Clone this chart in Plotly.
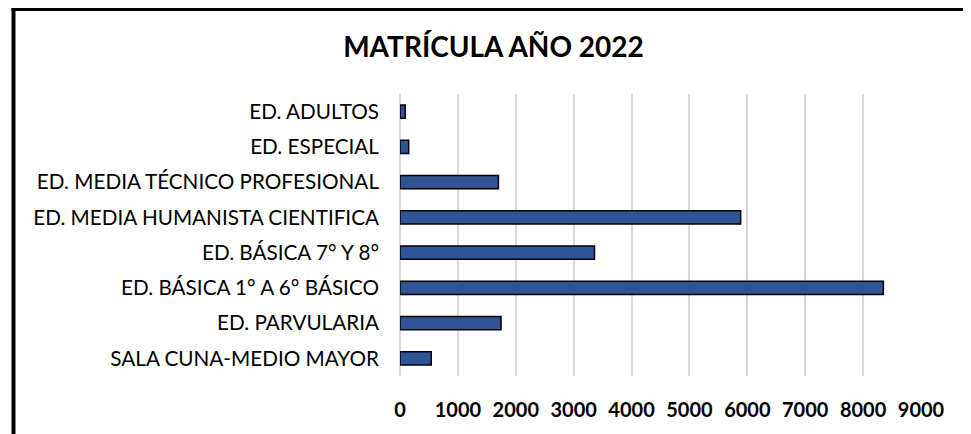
import plotly.graph_objects as go

# Categories listed bottom to top, as in the source sheet
categories = [
    "SALA CUNA-MEDIO MAYOR",
    "ED. PARVULARIA",
    "ED. BÁSICA 1° A 6° BÁSICO",
    "ED. BÁSICA 7° Y 8°",
    "ED. MEDIA HUMANISTA CIENTIFICA",
    "ED. MEDIA TÉCNICO PROFESIONAL",
    "ED. ESPECIAL",
    "ED. ADULTOS",
]
matricula = [540, 1745, 8350, 3360, 5885, 1700, 150, 90]
x_ticks = [0, 1000, 2000, 3000, 4000, 5000, 6000, 7000, 8000, 9000]

W, H = 971, 434
OFF = 8  # page body margin pushes the figure 8px right and down
L, R, T, B = 400 - OFF, 50 + OFF, 94 - OFF, 58 + OFF
plot_w = W - L - R
plot_h = H - T - B

fig = go.Figure(go.Bar(
    x=matricula,
    y=categories,
    orientation="h",
    marker=dict(color="#2F5597", line=dict(color="black", width=1.5)),
))

fig.update_layout(
    width=W, height=H,
    margin=dict(l=L, r=R, t=T, b=B),
    paper_bgcolor="white",
    plot_bgcolor="white",
    bargap=0.63,
    showlegend=False,
    font=dict(family="Lato", color="black", size=20),
    title=dict(
        text="MATRÍCULA AÑO 2022",
        font=dict(family="Lato", size=28, weight="bold", color="black"),
        x=(493.5 - OFF) / W, xref="container", xanchor="center",
        y=1 - (47.5 - OFF) / H, yref="container", yanchor="middle",
    ),
)

fig.update_xaxes(
    range=[0, 9000],
    tickvals=x_ticks,
    showgrid=True, gridcolor="#D9D9D9", gridwidth=1.5,
    zeroline=True, zerolinecolor="#D9D9D9", zerolinewidth=1.5,
    showline=False, ticks="",
    tickfont=dict(family="Lato", size=20, weight="bold", color="black"),
    ticklabelstandoff=20,
)
fig.update_yaxes(
    showgrid=False, zeroline=False, showline=False, ticks="",
    tickfont=dict(family="Lato", size=20.7, color="black"),
    ticklabelstandoff=20,
)

# Outer chart frame: thick top and left edges, the rest cut off by the page
left_x = (13.5 - OFF - L) / plot_w
top_y = 1 + (T - (9.5 - OFF)) / plot_h
fig.add_shape(type="line", xref="paper", yref="paper",
              x0=left_x, x1=left_x, y0=top_y, y1=-1,
              line=dict(color="black", width=4))
fig.add_shape(type="line", xref="paper", yref="paper",
              x0=left_x - 0.004, x1=2, y0=top_y, y1=top_y,
              line=dict(color="black", width=3))

fig.write_html("out.html")
